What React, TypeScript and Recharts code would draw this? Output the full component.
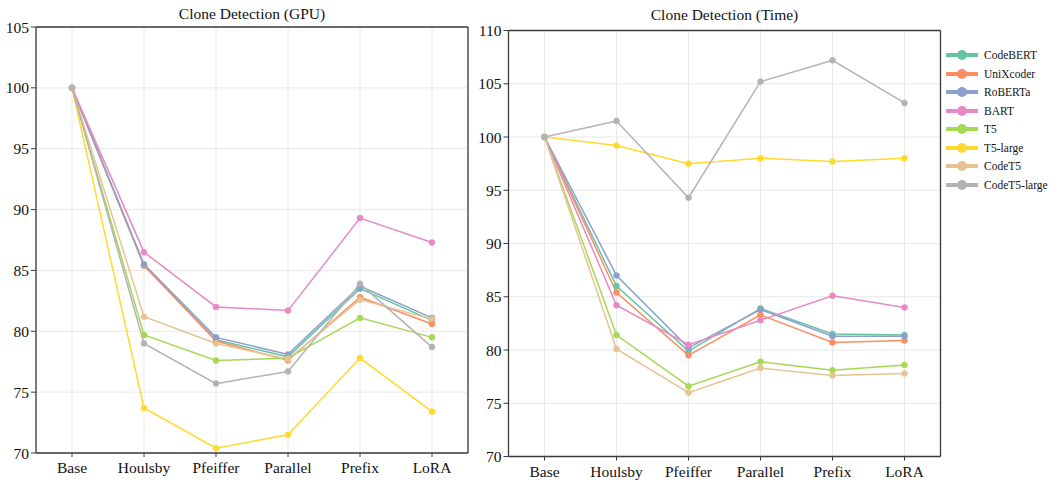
import React from 'react';
import { LineChart, Line, XAxis, YAxis, CartesianGrid } from 'recharts';

const methods = ['Base', 'Houlsby', 'Pfeiffer', 'Parallel', 'Prefix', 'LoRA'];
const models = ['CodeBERT', 'UniXcoder', 'RoBERTa', 'BART', 'T5', 'T5-large', 'CodeT5', 'CodeT5-large'];
const colors = ['#66c2a5', '#fc8d62', '#8da0cb', '#e78ac3', '#a6d854', '#ffd92f', '#e5c494', '#b3b3b3'];

// Clone Detection (GPU), one array per model, values per method
const gpuCodeBERT = [100, 85.4, 79.3, 77.9, 83.5, 80.9];
const gpuUniXcoder = [100, 85.4, 79.2, 77.6, 82.8, 80.6];
const gpuRoBERTa = [100, 85.5, 79.5, 78.1, 83.7, 81.1];
const gpuBART = [100, 86.5, 82.0, 81.7, 89.3, 87.3];
const gpuT5 = [100, 79.7, 77.6, 77.8, 81.1, 79.5];
const gpuT5Large = [100, 73.7, 70.4, 71.5, 77.8, 73.4];
const gpuCodeT5 = [100, 81.2, 79.0, 77.7, 82.6, 81.0];
const gpuCodeT5Large = [100, 79.0, 75.7, 76.7, 83.9, 78.7];

// Clone Detection (Time)
const timeCodeBERT = [100, 86.0, 79.9, 83.9, 81.5, 81.4];
const timeUniXcoder = [100, 85.4, 79.5, 83.3, 80.7, 80.9];
const timeRoBERTa = [100, 87.0, 80.2, 83.8, 81.3, 81.3];
const timeBART = [100, 84.2, 80.5, 82.8, 85.1, 84.0];
const timeT5 = [100, 81.4, 76.6, 78.9, 78.1, 78.6];
const timeT5Large = [100, 99.2, 97.5, 98.0, 97.7, 98.0];
const timeCodeT5 = [100, 80.1, 76.0, 78.3, 77.6, 77.8];
const timeCodeT5Large = [100, 101.5, 94.3, 105.2, 107.2, 103.2];

const gpuTicks = [70, 75, 80, 85, 90, 95, 100, 105];
const timeTicks = [70, 75, 80, 85, 90, 95, 100, 105, 110];

const gpuSeries = [gpuCodeBERT, gpuUniXcoder, gpuRoBERTa, gpuBART, gpuT5, gpuT5Large, gpuCodeT5, gpuCodeT5Large];
const timeSeries = [timeCodeBERT, timeUniXcoder, timeRoBERTa, timeBART, timeT5, timeT5Large, timeCodeT5, timeCodeT5Large];

const buildRows = (series: number[][]) =>
  methods.map((m, i) => {
    const row: Record<string, string | number> = { name: m };
    models.forEach((model, j) => {
      row[model] = series[j][i];
    });
    return row;
  });

const FONT = '"Liberation Serif", "Times New Roman", serif';
const AXIS = '#3a3a3a';

const XTick = (props: any) => {
  const { x, y, payload } = props;
  return (
    <text x={x} y={y} dy="0.71em" textAnchor="middle" fontFamily={FONT} fontSize={15.5} fill="#111">
      {payload.value}
    </text>
  );
};

const YTick = (props: any) => {
  const { x, y, payload } = props;
  return (
    <text x={x} y={y} dy="0.355em" textAnchor="end" fontFamily={FONT} fontSize={15.5} fill="#111">
      {payload.value}
    </text>
  );
};

interface PanelProps {
  title: string;
  series: number[][];
  ticks: number[];
  left: number;
  width: number;
  plotLeft: number;
  plotRight: number;
  plotTop: number;
  plotBottom: number;
  titleY: number;
}

const Panel = ({ title, series, ticks, left, width, plotLeft, plotRight, plotTop, plotBottom, titleY }: PanelProps) => {
  const height = 483;
  const data = buildRows(series);
  const domain = [ticks[0], ticks[ticks.length - 1]];
  const half = (plotRight - plotLeft) / methods.length / 2;
  return (
    <div style={{ position: 'absolute', left, top: 0, width, height, fontFamily: FONT }}>
      <div
        style={{
          position: 'absolute',
          left: plotLeft - left,
          width: plotRight - plotLeft,
          top: titleY - 10,
          height: 20,
          lineHeight: '20px',
          textAlign: 'center',
          fontFamily: FONT,
          fontSize: 15.5,
          color: '#111',
        }}
      >
        {title}
      </div>
      <LineChart
        width={width}
        height={height}
        data={data}
        margin={{ top: plotTop - 1, right: left + width - plotRight - 1, bottom: 0, left: 0 }}
      >
        <CartesianGrid stroke="#e8e8e8" strokeWidth={1} />
        <XAxis
          dataKey="name"
          height={height - plotBottom}
          padding={{ left: half, right: half }}
          tick={<XTick />}
          tickSize={4}
          tickMargin={5}
          axisLine={{ stroke: AXIS, strokeWidth: 1.3 }}
          tickLine={{ stroke: AXIS }}
          interval={0}
        />
        <XAxis
          xAxisId="top"
          orientation="top"
          dataKey="name"
          height={1}
          padding={{ left: half, right: half }}
          tick={false}
          tickLine={false}
          axisLine={{ stroke: AXIS, strokeWidth: 1.3 }}
        />
        <YAxis
          type="number"
          domain={domain}
          ticks={ticks}
          width={plotLeft - left}
          tick={<YTick />}
          tickSize={5}
          tickMargin={2}
          interval={0}
          axisLine={{ stroke: AXIS, strokeWidth: 1.3 }}
          tickLine={{ stroke: AXIS }}
        />
        <YAxis
          yAxisId="right"
          orientation="right"
          type="number"
          domain={domain}
          width={1}
          tick={false}
          tickLine={false}
          axisLine={{ stroke: AXIS, strokeWidth: 1.3 }}
        />
        {models.map((model, j) => (
          <Line
            key={model}
            type="linear"
            dataKey={model}
            stroke={colors[j]}
            strokeWidth={1.5}
            dot={{ r: 3, fill: colors[j], stroke: colors[j], strokeWidth: 0.5 }}
            isAnimationActive={false}
          />
        ))}
      </LineChart>
    </div>
  );
};

const LegendBox = () => (
  <div style={{ position: 'absolute', left: 944, top: 46, width: 115 }}>
    {models.map((model, j) => (
      <div key={model} style={{ display: 'flex', alignItems: 'center', height: 18.5 }}>
        <svg width={36} height={12} style={{ flex: 'none' }}>
          <line x1={2} y1={6} x2={34} y2={6} stroke={colors[j]} strokeWidth={4} />
          <circle cx={18} cy={6} r={5} fill={colors[j]} />
        </svg>
        <span style={{ fontFamily: FONT, fontSize: 11.5, color: '#111', marginLeft: 4, whiteSpace: 'nowrap' }}>{model}</span>
      </div>
    ))}
  </div>
);

export default function App() {
  return (
    <div style={{ position: 'absolute', left: 0, top: 0, width: 1059, height: 483, background: '#fff' }}>
      <Panel
        title="Clone Detection (GPU)"
        series={gpuSeries}
        ticks={gpuTicks}
        left={0}
        width={480}
        plotLeft={36}
        plotRight={468}
        plotTop={27}
        plotBottom={453}
        titleY={14}
      />
      <Panel
        title="Clone Detection (Time)"
        series={timeSeries}
        ticks={timeTicks}
        left={470}
        width={589}
        plotLeft={508.5}
        plotRight={940.5}
        plotTop={30.5}
        plotBottom={456.5}
        titleY={15}
      />
      <LegendBox />
    </div>
  );
}
